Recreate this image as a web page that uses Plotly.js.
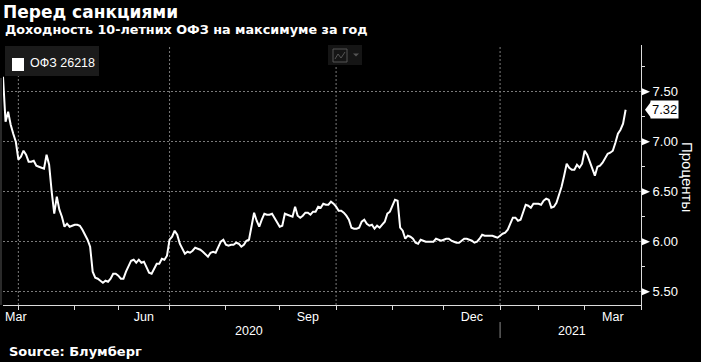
<!DOCTYPE html>
<html>
<head>
<meta charset="utf-8">
<script src="https://cdn.plot.ly/plotly-3.0.1.min.js"></script>
<style>
html,body{margin:0;padding:0;background:#000;}
#chart{width:701px;height:362px;}
</style>
</head>
<body>
<div id="chart"></div>
<script>
// ---- data ----
const seriesName = 'ОФЗ 26218';
const dates = [
 '2020-03-24','2020-03-25','2020-03-26','2020-03-27','2020-03-30','2020-03-31',
 '2020-04-01','2020-04-02','2020-04-03','2020-04-06','2020-04-07','2020-04-08','2020-04-09','2020-04-10','2020-04-13','2020-04-14','2020-04-15','2020-04-16','2020-04-17','2020-04-20','2020-04-21','2020-04-22','2020-04-23','2020-04-24','2020-04-27','2020-04-28','2020-04-29','2020-04-30',
 '2020-05-06','2020-05-07','2020-05-08','2020-05-12','2020-05-13','2020-05-14','2020-05-15','2020-05-18','2020-05-19','2020-05-20','2020-05-21','2020-05-22','2020-05-25','2020-05-26','2020-05-27','2020-05-28','2020-05-29',
 '2020-06-01','2020-06-02','2020-06-03','2020-06-04','2020-06-05','2020-06-08','2020-06-09','2020-06-10','2020-06-11','2020-06-15','2020-06-16','2020-06-17','2020-06-18','2020-06-19','2020-06-22','2020-06-23','2020-06-25','2020-06-26','2020-06-29','2020-06-30',
 '2020-07-02','2020-07-03','2020-07-06','2020-07-07','2020-07-08','2020-07-09','2020-07-10','2020-07-13','2020-07-14','2020-07-15','2020-07-16','2020-07-17','2020-07-20','2020-07-21','2020-07-22','2020-07-23','2020-07-24','2020-07-27','2020-07-28','2020-07-29','2020-07-30','2020-07-31',
 '2020-08-03','2020-08-04','2020-08-05','2020-08-06','2020-08-07','2020-08-10','2020-08-11','2020-08-12','2020-08-13','2020-08-14','2020-08-17','2020-08-18','2020-08-19','2020-08-20','2020-08-21','2020-08-24','2020-08-25','2020-08-26','2020-08-27','2020-08-28','2020-08-31',
 '2020-09-01','2020-09-02','2020-09-03','2020-09-04','2020-09-07','2020-09-08','2020-09-09','2020-09-10','2020-09-11','2020-09-14','2020-09-15','2020-09-16','2020-09-17','2020-09-18','2020-09-21','2020-09-22','2020-09-23','2020-09-24','2020-09-25','2020-09-28','2020-09-29','2020-09-30',
 '2020-10-01','2020-10-02','2020-10-05','2020-10-06','2020-10-07','2020-10-08','2020-10-09','2020-10-12','2020-10-13','2020-10-14','2020-10-15','2020-10-16','2020-10-19','2020-10-20','2020-10-21','2020-10-22','2020-10-23','2020-10-26','2020-10-27','2020-10-28','2020-10-29','2020-10-30',
 '2020-11-02','2020-11-03','2020-11-05','2020-11-06','2020-11-09','2020-11-10','2020-11-11','2020-11-12','2020-11-13','2020-11-16','2020-11-17','2020-11-18','2020-11-19','2020-11-20','2020-11-23','2020-11-24','2020-11-25','2020-11-26','2020-11-27','2020-11-30',
 '2020-12-01','2020-12-02','2020-12-03','2020-12-04','2020-12-07','2020-12-08','2020-12-09','2020-12-10','2020-12-11','2020-12-14','2020-12-15','2020-12-16','2020-12-17','2020-12-18','2020-12-21','2020-12-22','2020-12-23','2020-12-24','2020-12-25','2020-12-28','2020-12-29','2020-12-30',
 '2021-01-11','2021-01-12','2021-01-13','2021-01-14','2021-01-15','2021-01-18','2021-01-19','2021-01-20','2021-01-21','2021-01-22','2021-01-25','2021-01-26','2021-01-27','2021-01-28','2021-01-29',
 '2021-02-01','2021-02-02','2021-02-03','2021-02-04','2021-02-05','2021-02-08','2021-02-09','2021-02-10','2021-02-11','2021-02-12','2021-02-15','2021-02-16','2021-02-17','2021-02-18','2021-02-19','2021-02-24','2021-02-25','2021-02-26',
 '2021-03-01','2021-03-02','2021-03-03','2021-03-04','2021-03-05','2021-03-09','2021-03-10','2021-03-11','2021-03-12','2021-03-15','2021-03-16','2021-03-17','2021-03-18','2021-03-19','2021-03-22','2021-03-23','2021-03-24'
];
const yields = [
 7.65,7.20,7.30,7.17,7.08,7.00,
 6.82,6.85,6.91,6.87,6.80,6.80,6.81,6.76,6.75,6.74,6.73,6.87,6.77,6.50,6.28,6.45,6.32,6.25,6.15,6.18,6.15,6.16,
 6.17,6.17,6.16,6.12,6.07,6.02,5.95,5.70,5.64,5.63,5.61,5.59,5.61,5.60,5.63,5.68,5.68,
 5.66,5.63,5.63,5.70,5.76,5.81,5.82,5.79,5.82,5.79,5.80,5.74,5.69,5.68,5.73,5.78,5.78,5.83,5.82,5.86,
 6.02,6.05,6.11,6.07,5.98,5.93,5.88,5.90,5.89,5.91,5.94,5.93,5.92,5.90,5.87,5.85,5.89,5.90,5.89,5.95,6.00,6.02,
 5.97,5.96,5.97,5.97,5.99,5.98,5.95,5.97,6.01,6.02,6.15,6.29,6.21,6.15,6.22,6.28,6.27,6.27,6.28,6.24,6.19,
 6.15,6.16,6.28,6.27,6.26,6.25,6.35,6.26,6.24,6.26,6.29,6.29,6.27,6.30,6.30,6.35,6.34,6.38,6.37,6.37,6.40,6.38,
 6.35,6.31,6.31,6.29,6.26,6.22,6.14,6.13,6.13,6.14,6.20,6.22,6.18,6.16,6.17,6.13,6.16,6.14,6.17,6.20,6.28,6.30,
 6.36,6.42,6.41,6.14,6.11,6.03,6.06,6.05,6.03,5.99,5.98,6.02,6.01,6.00,6.00,6.00,6.00,6.03,6.02,6.01,
 6.02,6.03,6.03,6.01,6.00,5.99,5.99,6.01,6.03,6.03,6.02,6.01,5.99,6.00,6.03,6.07,6.06,6.06,6.06,6.06,6.05,6.04,
 6.06,6.08,6.09,6.12,6.18,6.24,6.24,6.21,6.22,6.30,6.37,6.36,6.34,6.38,6.38,
 6.38,6.37,6.41,6.43,6.42,6.34,6.35,6.39,6.47,6.55,6.66,6.78,6.74,6.72,6.72,6.77,6.74,6.78,
 6.91,6.87,6.80,6.72,6.66,6.75,6.76,6.79,6.84,6.88,6.89,6.91,6.99,7.08,7.12,7.18,7.32
];
// non-trading weekdays (exchange holidays) removed from the axis
const holidays = ['2020-05-01','2020-05-04','2020-05-05','2020-05-11','2020-06-12','2020-06-24','2020-07-01',
 '2020-11-04','2020-12-31','2021-01-01','2021-01-04','2021-01-05','2021-01-06','2021-01-07','2021-01-08',
 '2021-02-22','2021-02-23','2021-03-08'];
// first trading day of each month (tick marks)
const monthStarts = ['2020-04-01','2020-05-06','2020-06-01','2020-07-02','2020-08-03','2020-09-01','2020-10-01',
 '2020-11-02','2020-12-01','2021-01-11','2021-02-01','2021-03-01','2021-04-01'];
// quarter starts (vertical dotted gridlines)
const quarterStarts = ['2020-04-01','2020-07-02','2020-10-01','2021-01-11'];
// month labels (placed mid-month)
const monthLabels = ['Mar','Jun','Sep','Dec','Mar'];
const monthLabelDates = ['2020-03-31','2020-06-16','2020-09-16','2020-12-16','2021-03-17'];
const yearLabels = ['2020','2021'];
const yearLabelDates = ['2020-08-14','2021-02-18'];
const yearDivider = '2021-01-11';
const yTicks = [5.5,6.0,6.5,7.0,7.5];
const yMinor = [5.75,6.25,6.75,7.25,7.75];
const xRange = ['2020-03-24','2021-04-01'];
const yRange = [5.367,7.967];

// ---- layout helpers (pixel -> paper) ----
const L=3,R=641,T=45,B=305;
const px = x => (x-L)/(R-L);
const py = y => (B-y)/(B-T);

const axisFont = 'Liberation Sans, Arial, sans-serif';
const boldFont = 'DejaVu Sans, Verdana, sans-serif';
const lastVal = yields[yields.length-1];

const shapes = [];
// quarter gridlines
quarterStarts.forEach(d => shapes.push({type:'line', xref:'x', yref:'paper', x0:d, x1:d, y0:0, y1:1,
  line:{color:'#7a7a7a', width:1, dash:'2px,2px'}, layer:'below'}));
// left edge strip
shapes.push({type:'rect', xref:'paper', yref:'paper', x0:px(0), x1:px(2), y0:0, y1:py(78), fillcolor:'#2a2a2a', line:{width:0}});
// y tick triangles
yTicks.forEach(v => shapes.push({type:'path', xref:'paper', yref:'y', xsizemode:'pixel', ysizemode:'pixel',
  xanchor:1, yanchor:v, path:'M 1 -3.5 L 9 0 L 1 3.5 Z', fillcolor:'#ffffff', line:{width:0}}));
// last value pointer
shapes.push({type:'path', xref:'paper', yref:'y', xsizemode:'pixel', ysizemode:'pixel',
  xanchor:1, yanchor:lastVal, path:'M 4 0 L 10 -8 L 10 8 Z', fillcolor:'#ffffff', line:{width:0}});
// year divider
shapes.push({type:'line', xref:'x', yref:'paper', x0:yearDivider, x1:yearDivider, y0:py(338), y1:py(322),
  line:{color:'#8a8a8a', width:1}});
// legend box
shapes.push({type:'rect', xref:'paper', yref:'paper', x0:px(5), x1:px(99), y0:py(76), y1:py(46), fillcolor:'#1b1b1b', line:{width:0}});
shapes.push({type:'rect', xref:'paper', yref:'paper', x0:px(12), x1:px(24), y0:py(71), y1:py(58), fillcolor:'#ffffff', line:{width:0}});
// chart-type icon
shapes.push({type:'rect', xref:'paper', yref:'paper', x0:px(328), x1:px(362), y0:py(65), y1:py(45), fillcolor:'#151515', line:{width:0}});
shapes.push({type:'rect', xref:'paper', yref:'paper', x0:px(333), x1:px(347), y0:py(62), y1:py(49), fillcolor:'rgba(0,0,0,0)', line:{color:'#555', width:1}});
shapes.push({type:'path', xref:'paper', yref:'paper',
  path:`M ${px(335)} ${py(59)} L ${px(338)} ${py(54)} L ${px(341)} ${py(58)} L ${px(345)} ${py(52)}`, line:{color:'#555', width:1}});
shapes.push({type:'path', xref:'paper', yref:'paper',
  path:`M ${px(353)} ${py(53.5)} L ${px(359)} ${py(53.5)} L ${px(356)} ${py(56.5)} Z`, fillcolor:'#555', line:{width:0}});

const annotations = [
  {text:'<b>Доходность 10-летних ОФЗ на максимуме за год</b>', xref:'paper', yref:'paper', x:px(3), y:py(30),
   xanchor:'left', yanchor:'middle', showarrow:false, font:{family:boldFont, size:12.75, color:'#fff'}},
  {text:'<b>Source: Блумберг</b>', xref:'paper', yref:'paper', x:px(7), y:py(351),
   xanchor:'left', yanchor:'middle', showarrow:false, font:{family:boldFont, size:13, color:'#fff'}},
  {text:seriesName, xref:'paper', yref:'paper', x:px(28), y:py(63), xanchor:'left', yanchor:'middle',
   showarrow:false, font:{family:axisFont, size:12.5, color:'#fff'}},
  {text:'Проценты', xref:'paper', yref:'paper', x:1, xshift:47, y:py(177), xanchor:'center', yanchor:'middle',
   textangle:90, showarrow:false, font:{family:axisFont, size:15, color:'#fff'}},
  {text:lastVal.toFixed(2), xref:'paper', yref:'y', x:1, xshift:9, y:lastVal, xanchor:'left', yanchor:'middle',
   showarrow:false, bgcolor:'#ffffff', borderpad:1, font:{family:axisFont, size:13, color:'#000'}}
];
yearLabels.forEach((t,i) => annotations.push({text:t, xref:'x', yref:'paper', x:yearLabelDates[i], y:py(331),
  xanchor:'center', yanchor:'middle', showarrow:false, font:{family:axisFont, size:12.5, color:'#fff'}}));

const trace = {x:dates, y:yields, type:'scatter', mode:'lines', name:seriesName,
  line:{color:'#ffffff', width:2}, hoverinfo:'skip'};

const layout = {
  width:701, height:362,
  margin:{l:L, r:701-R, t:T, b:362-B, pad:0},
  paper_bgcolor:'#000', plot_bgcolor:'#000',
  showlegend:false,
  font:{family:axisFont, color:'#fff', size:13},
  title:{text:'<b>Перед санкциями</b>', xref:'container', yref:'container', x:3/701, xanchor:'left',
    y:1-12/362, yanchor:'middle', font:{family:boldFont, size:17, color:'#fff'}},
  xaxis:{type:'date', range:xRange,
    rangebreaks:[{bounds:['sat','mon']},{values:holidays, dvalue:86400000}],
    tickmode:'array', tickvals:monthLabelDates, ticktext:monthLabels, ticks:'', showgrid:false, zeroline:false,
    showline:true, linecolor:'#dcdcdc', linewidth:1,
    minor:{tickmode:'array', tickvals:monthStarts, ticks:'outside', ticklen:4, tickcolor:'#dcdcdc', showgrid:false},
    tickfont:{family:axisFont, size:12.5, color:'#fff'}},
  yaxis:{side:'right', range:yRange, tickmode:'array', tickvals:yTicks, ticktext:yTicks.map(v=>v.toFixed(2)),
    ticks:'outside', ticklen:8, tickcolor:'rgba(0,0,0,0)',
    showgrid:true, gridcolor:'#7a7a7a', griddash:'2px,2px', gridwidth:1, zeroline:false,
    showline:true, linecolor:'#dcdcdc', linewidth:1,
    minor:{tickmode:'array', tickvals:yMinor, ticks:'outside', ticklen:3, tickcolor:'#dcdcdc', showgrid:false},
    tickfont:{family:axisFont, size:13, color:'#fff'}},
  shapes:shapes,
  annotations:annotations
};

Plotly.newPlot('chart', [trace], layout, {staticPlot:true, displayModeBar:false});
</script>
</body>
</html>
